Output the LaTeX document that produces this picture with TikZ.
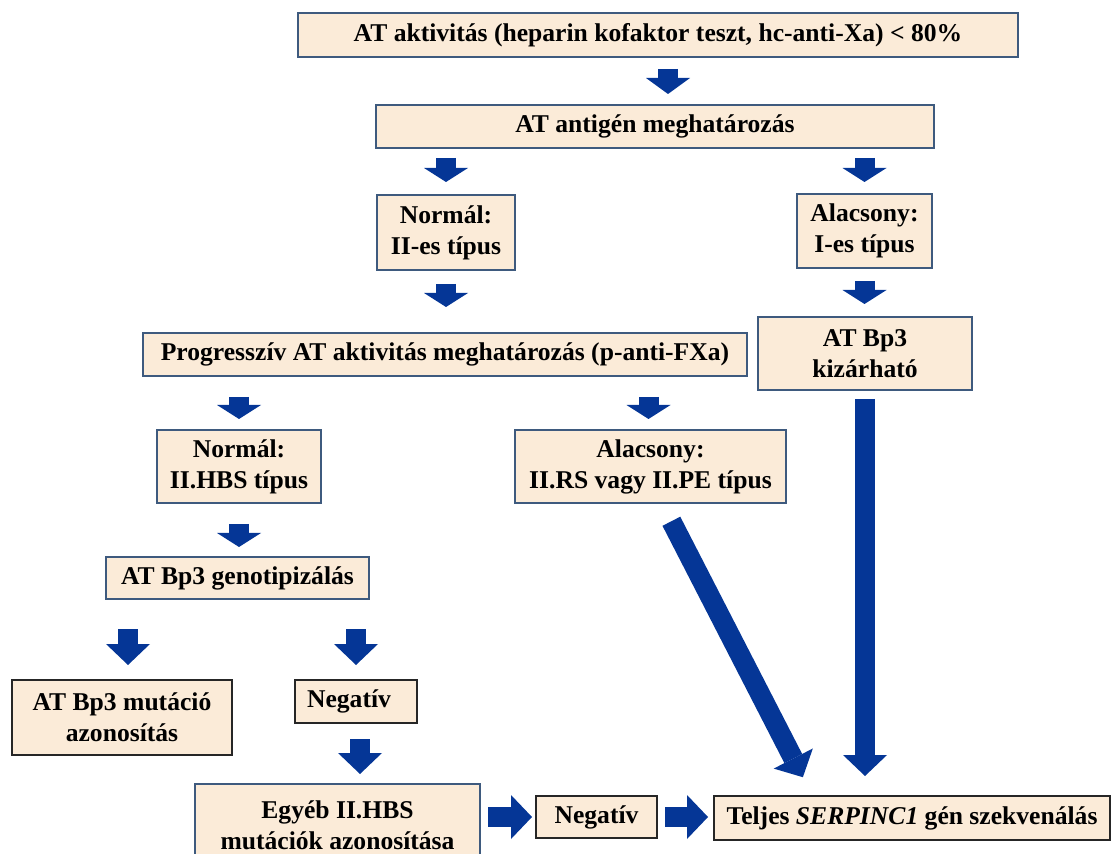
\documentclass[tikz,border=0pt]{standalone}
\usepackage{fontspec}
\setmainfont{Liberation Serif}
\usetikzlibrary{arrows.meta,positioning,calc}
\definecolor{KeretKek}{HTML}{3E5A7E}
\definecolor{DobozBezs}{HTML}{FBEBD8}
\definecolor{NyilKek}{HTML}{053696}
\tikzset{
	doboz/.style={draw=KeretKek, line width=1pt, fill=DobozBezs, rectangle, align=center, inner sep=2pt,
		font=\bfseries\fontsize{12.8}{15.5}\selectfont},
	fekete/.style={draw=black!85},
	nyil/.style={NyilKek, line width=10pt, -{Triangle[width=22pt,length=7pt,line width=0pt]}},
	hosszu/.style={-{Triangle[width=22pt,length=10.5pt,line width=0pt]}}
}
\begin{document}
\begin{tikzpicture}[x=0.5pt, y=-0.5pt]
			\useasboundingbox (0,0) rectangle (1112,854);
			% Kiindulas: AT aktivitas es antigen
			\node[doboz, minimum width=360pt, minimum height=22pt] (aktiv) at (658,35) {AT aktivitás (heparin kofaktor teszt, hc-anti-Xa) < 80\%};
			\node[doboz, minimum width=279pt, minimum height=21.5pt] (antigen) at (655,126.5) {AT antigén meghatározás};
			\draw[nyil, -{Triangle[width=22pt,length=8pt,line width=0pt]}, shorten <=5.5pt, shorten >=5pt] ([xshift=5pt]aktiv.south) -- ([xshift=6.5pt]antigen.north);
			%
			% Normal / alacsony antigen szint
			\node[doboz, minimum width=69pt, minimum height=37.5pt] (normalII) at (446,232.5) {Normál:\\II-es típus};
			\node[doboz, minimum width=67.5pt, minimum height=37pt] (alacsonyI) at (864.5,231) {Alacsony:\\I-es típus};
			\draw[nyil, shorten <=4.5pt, shorten >=6pt] (normalII.north |- antigen.south) -- (normalII.north);
			\draw[nyil, shorten <=4.5pt, shorten >=5.5pt] (alacsonyI.north |- antigen.south) -- (alacsonyI.north);
			%
			% Progressziv AT aktivitas, Bp3 kizarhato
			\node[doboz, minimum width=302pt, minimum height=21.5pt] (progr) at (445,354.5) {Progresszív AT aktivitás meghatározás (p-anti-FXa)};
			\node[doboz, minimum width=107pt, minimum height=36.5pt] (kizar) at (865,353.5) {AT Bp3\\kizárható};
			\draw[nyil, shorten <=6.5pt, shorten >=12.5pt] (normalII.south) -- (normalII.south |- progr.north);
			\draw[nyil, shorten <=6pt, shorten >=6pt] (alacsonyI.south) -- (alacsonyI.south |- kizar.north);
			%
			% II-es tipus alcsoportjai
			\node[doboz, minimum width=82pt, minimum height=36.5pt] (normalHBS) at (239,466.5) {Normál:\\II.HBS típus};
			\node[doboz, minimum width=135.5pt, minimum height=36.5pt] (alacsonyRS) at (650.5,466.5) {Alacsony:\\II.RS vagy II.PE típus};
			\draw[nyil, shorten <=10pt, shorten >=5pt] (normalHBS.north |- progr.south) -- (normalHBS.north);
			\draw[nyil, shorten <=10pt, shorten >=5pt] ([xshift=-1pt]alacsonyRS.north |- progr.south) -- ([xshift=-1pt]alacsonyRS.north);
			%
			% Genotipizalas
			\node[doboz, minimum width=131.5pt, minimum height=21pt] (genotip) at (237.5,578) {AT Bp3 genotipizálás};
			\draw[nyil, shorten <=10pt, shorten >=4.5pt] (normalHBS.south) -- (normalHBS.south |- genotip.north);
			%
			\node[doboz, fekete, minimum width=110pt, minimum height=37.5pt] (mutacio) at (122,717.5) {AT Bp3 mutáció\\azonosítás};
			\node[doboz, fekete, minimum width=61pt, minimum height=21.5pt] (negativ) at (356,701.5) {Negatív\hspace{7pt}};
			\draw[nyil, hosszu, shorten <=14.5pt, shorten >=7pt] ([xshift=3pt]mutacio.north |- genotip.south) -- ([xshift=3pt]mutacio.north);
			\draw[nyil, hosszu, shorten <=14.5pt, shorten >=7pt] (negativ.north |- genotip.south) -- (negativ.north);
			%
			% Also sor
			\node[doboz, minimum width=142.5pt, minimum height=41pt] (egyeb) at (337.5,825) {Egyéb II.HBS\\mutációk azonosítása};
			\node[doboz, fekete, minimum width=60.5pt, minimum height=21pt] (negativB) at (596.5,817) {Negatív};
			\node[doboz, fekete, minimum width=198pt, minimum height=22pt] (teljes) at (912,818) {Teljes \textit{SERPINC1} gén szekvenálás};
			\draw[nyil, hosszu, shorten <=7.5pt, shorten >=4.5pt] ([xshift=2pt]negativ.south) -- ([xshift=2pt]negativ.south |- egyeb.north);
			\draw[nyil, hosszu, shorten <=3.5pt, shorten >=1.5pt] (egyeb.east |- negativB.west) -- (negativB.west);
			\draw[nyil, hosszu, shorten <=3.5pt, shorten >=2.5pt] (negativB.east) -- (teljes.west |- negativB.east);
			%
			% Hosszu nyilak a teljes szekvenalashoz
			\draw[nyil, hosszu, shorten <=4pt, shorten >=9.5pt] (kizar.south) -- (kizar.south |- teljes.north);
			\draw[nyil, hosszu, shorten <=9.7pt, shorten >=10pt] ([xshift=6pt]alacsonyRS.south) -- ([xshift=-50pt]teljes.north);
\end{tikzpicture}
\end{document}
